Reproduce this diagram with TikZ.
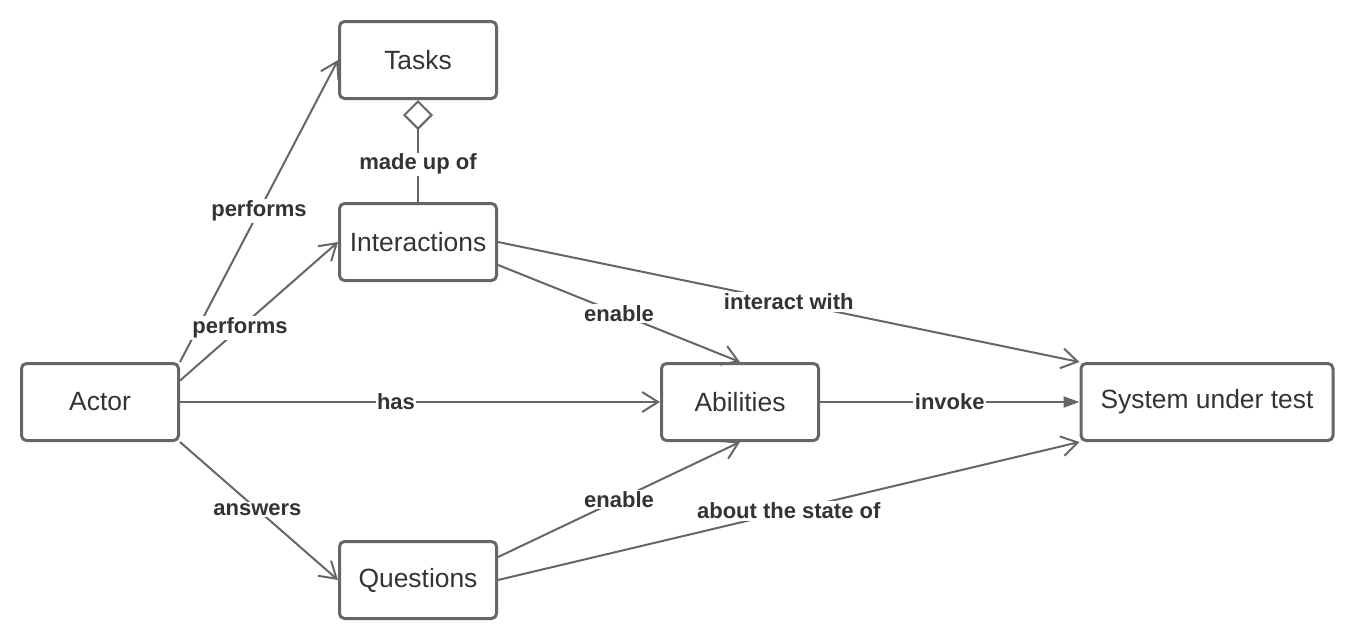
\documentclass[tikz,border=0pt]{standalone}
\usepackage{fontspec}
\setmainfont{Liberation Sans}
\usetikzlibrary{arrows.meta}
\definecolor{linegray}{HTML}{666666}
\definecolor{textgray}{HTML}{333333}
\begin{document}
\begin{tikzpicture}[x=1pt,y=-1pt,
    >={Straight Barb[length=16pt,width=20pt]},
    box/.style={draw=linegray,line width=3pt,rounded corners=5pt,minimum width=157pt,minimum height=77pt,text=textgray,font=\fontsize{26.4}{30}\selectfont},
    lbl/.style={fill=white,inner sep=1.5pt,text=textgray,font=\bfseries\fontsize{22}{26}\selectfont},
    conn/.style={draw=linegray,line width=2pt}]

      \useasboundingbox (0,0) rectangle (1355,641);
      \path (418,60) node [box](box_tasks){Tasks};
      \path (418,242) node [box](box_interactions){Interactions};
      \path (100,402) node [box](box_actor){Actor};
      \path (740,402) node [box](box_abilities){Abilities};
      \path (1207,402) node [box,minimum width=252pt](box_sut){System under test};
      \path (418,580) node [box](box_questions){Questions};
      % actor
      \draw[conn,->] (box_actor.north east) -- node[lbl,pos=0.5]{performs} (box_tasks.west);
      \draw[conn,->] (box_actor.15) -- node[lbl,pos=0.38]{performs} (box_interactions.west);
      \draw[conn,->] (box_actor) -- node[lbl,pos=0.45]{has} (box_abilities);
      \draw[conn,->] (box_actor.south east) -- node[lbl,pos=0.49]{answers} (box_questions.west);
      % tasks / interactions
      \draw[conn,-{Diamond[open,length=30pt,width=30pt]}] (box_interactions.north) -- node[lbl,pos=0.37]{made up of} (box_tasks.south);
      \draw[conn,->] (box_interactions.-16) -- node[lbl]{enable} (box_abilities.north);
      \draw[conn,->] (box_interactions.east) -- node[lbl]{interact with} (box_sut.north west);
      % questions
      \draw[conn,->] (box_questions.16) -- node[lbl]{enable} (box_abilities.south);
      \draw[conn,->] (box_questions.east) -- node[lbl]{about the state of} (box_sut.south west);
      \draw[conn,-{Triangle[length=16pt,width=11pt]}] (box_abilities) -- node[lbl]{invoke} (box_sut);

    \end{tikzpicture}
\end{document}
